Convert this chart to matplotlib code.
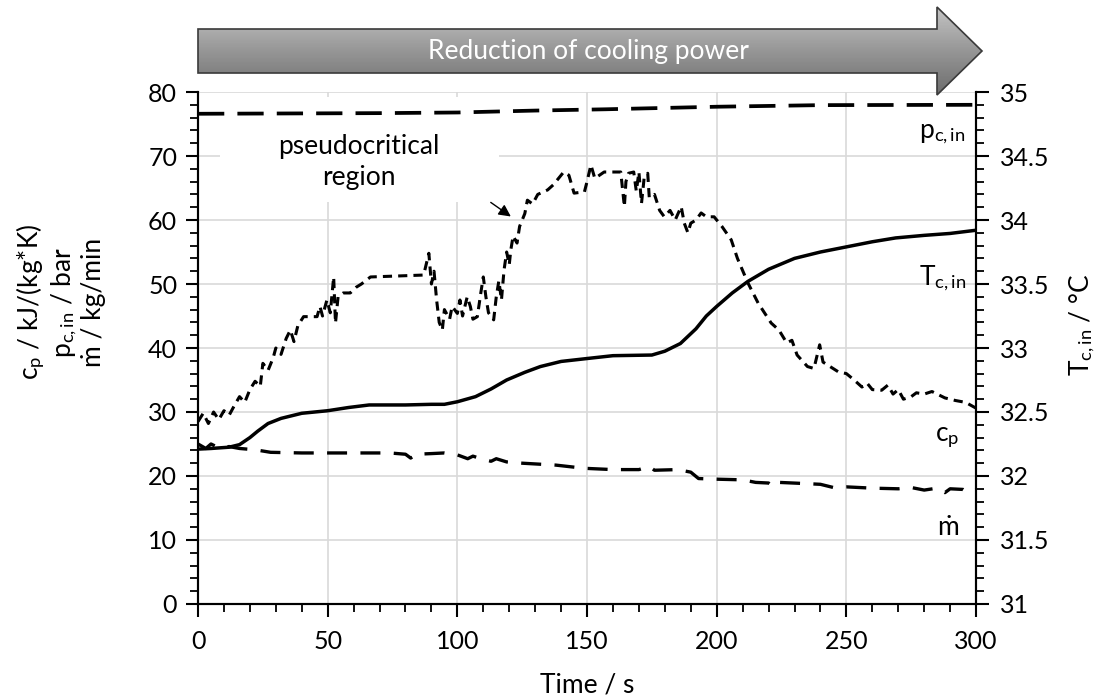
import matplotlib
matplotlib.use("Agg")
import matplotlib.pyplot as plt
from matplotlib.patches import Polygon, Rectangle
from matplotlib.ticker import MultipleLocator
import numpy as np

plt.rcParams['font.family'] = ['Lato', 'DejaVu Sans']
plt.rcParams['mathtext.fontset'] = 'custom'
plt.rcParams['mathtext.rm'] = 'Lato'
plt.rcParams['mathtext.it'] = 'Lato:italic'

# p_c,in / bar
t_p = [0, 70, 100, 130, 157, 200, 240, 300]
p_cin = [76.6, 76.7, 76.8, 77.1, 77.3, 77.7, 77.95, 78.0]

# T_c,in / degC (right axis)
t_T = [0, 5, 12, 16, 20, 23, 27, 32, 40, 50, 58, 66, 80, 90, 95, 100, 107, 113,
       119, 126, 132, 140, 151, 160, 175, 180, 186, 192, 196, 200, 206, 212, 220,
       230, 240, 250, 260, 269, 280, 290, 300]
T_cin = [32.21, 32.215, 32.225, 32.245, 32.30, 32.35, 32.41, 32.45, 32.49, 32.51,
         32.535, 32.555, 32.555, 32.56, 32.56, 32.58, 32.62, 32.68, 32.75, 32.81,
         32.855, 32.895, 32.92, 32.94, 32.945, 32.975, 33.035, 33.15, 33.25, 33.325,
         33.43, 33.52, 33.615, 33.70, 33.75, 33.79, 33.83, 33.86, 33.88, 33.895, 33.92]

# c_p / kJ/(kg*K)
t_cp = [0, 2, 4, 6, 8, 10, 12, 14, 16, 18, 20, 22, 24, 25, 27, 29, 30, 32, 34, 35.6,
        37, 38.5, 40.7, 45.9, 47, 48, 49.7, 51, 52.3, 53, 54, 56, 58.7, 61, 63, 66.5,
        87, 89, 90, 91, 92, 93, 94.2, 95, 97, 98, 100, 101, 102, 103.8, 105, 106,
        107.7, 109, 110, 111, 112, 114, 115, 116, 117, 118, 119, 120, 120.6, 121.5,
        123, 124, 125, 126, 127, 129, 131, 134.8, 137, 141, 143, 145, 149, 150, 151.5,
        153, 156.6, 163, 164.4, 165, 166, 168, 169, 170, 171, 172, 173.4, 174, 176,
        178, 179.8, 182, 184, 186.3, 187.5, 188.9, 190, 192, 194, 196, 199, 202,
        205.6, 208, 212, 216, 221, 224, 227, 229, 231, 235, 237.5, 239.7, 241, 246.8,
        250, 253, 256, 258, 260, 263.6, 266, 268, 270, 272, 275, 277, 280, 283, 288,
        292, 296, 300]
cp = [28.5, 29.8, 28.2, 30.0, 28.8, 30.2, 29.5, 31.0, 32.4, 31.5, 33.5, 34.8, 34.0,
      37.6, 36.5, 38.5, 40.0, 39.0, 41.5, 42.8, 41.0, 43.5, 44.9, 44.9, 46.5, 45.0,
      47.5, 45.5, 51.1, 43.9, 48.0, 48.6, 48.6, 49.5, 50.0, 51.1, 51.4, 54.8, 50.0,
      52.0, 47.5, 44.0, 42.8, 46.0, 44.5, 46.5, 45.4, 47.5, 45.0, 48.0, 46.5, 44.5,
      44.9, 48.5, 51.1, 48.0, 45.5, 44.4, 48.0, 50.5, 47.5, 52.2, 55.0, 53.0, 55.3,
      57.5, 56.4, 59.0, 60.0, 61.0, 63.1, 62.5, 64.0, 64.7, 65.5, 67.5, 67.0, 64.2,
      64.4, 66.0, 68.6, 66.5, 67.5, 67.5, 62.1, 66.0, 67.3, 67.5, 64.5, 67.5, 62.6,
      66.5, 67.3, 63.5, 64.0, 61.5, 60.5, 61.5, 60.0, 62.1, 59.5, 58.0, 59.5, 60.0,
      61.1, 60.5, 60.5, 59.0, 56.9, 54.0, 50.2, 47.0, 43.9, 42.8, 40.8, 41.2, 38.9,
      37.1, 36.8, 40.5, 37.8, 36.3, 36.0, 35.0, 33.9, 34.5, 33.5, 33.4, 34.2, 32.8,
      33.5, 32.0, 32.4, 33.0, 32.8, 33.2, 32.2, 31.8, 31.5, 30.6]

# m_dot / kg/min
t_m = [0, 3, 5, 8, 12, 16, 22, 28, 40, 60, 74, 80, 82, 84, 90, 95, 100, 104, 106,
       110, 113, 115, 119, 125, 138, 149, 160, 170, 174, 176, 185, 190, 193, 200,
       210, 215, 220, 222, 224, 235, 240, 245, 250, 260, 270, 275, 280, 285, 288,
       290, 295, 297, 300]
m_dot = [25.0, 24.3, 25.0, 24.4, 24.6, 24.3, 24.1, 23.7, 23.6, 23.6, 23.6, 23.4,
         22.8, 23.4, 23.5, 23.6, 23.3, 22.7, 23.1, 22.6, 22.3, 22.7, 22.2, 22.0,
         21.7, 21.2, 21.0, 21.0, 21.5, 20.9, 21.0, 20.6, 19.6, 19.5, 19.4, 19.0,
         18.9, 18.3, 19.0, 18.8, 18.7, 18.2, 18.3, 18.1, 18.0, 18.2, 17.8, 18.1,
         17.4, 18.0, 17.9, 17.4, 17.8]

FS = 19
TFS = 18

fig = plt.figure(figsize=(11.02, 6.96), dpi=100)
ax = fig.add_axes([0.1797, 0.1322, 0.7060, 0.7356])
ax2 = ax.twinx()

ax.set_xlim(0, 300)
ax.set_ylim(0, 80)
ax2.set_ylim(31, 35)

ax.xaxis.set_major_locator(MultipleLocator(50))
ax.xaxis.set_minor_locator(MultipleLocator(10))
ax.yaxis.set_major_locator(MultipleLocator(10))
ax.yaxis.set_minor_locator(MultipleLocator(2))
ax2.yaxis.set_minor_locator(MultipleLocator(0.1))
ax2.set_yticks([31, 31.5, 32, 32.5, 33, 33.5, 34, 34.5, 35])
ax2.set_yticklabels(["31", "31.5", "32", "32.5", "33", "33.5", "34", "34.5", "35"])

ax.grid(True, which='major', color='#d9d9d9', lw=1.2, zorder=0)
ax.set_axisbelow(True)
for a in (ax, ax2):
    a.spines['top'].set_visible(False)
    for s in ('left', 'right', 'bottom'):
        a.spines[s].set_linewidth(1.5)
    a.tick_params(which='major', length=9, width=1.5, labelsize=TFS, direction='out')
    a.tick_params(which='minor', length=6, width=1.3, direction='out')
ax.tick_params(axis='x', pad=10)
ax.tick_params(axis='y', pad=6)
ax2.tick_params(axis='y', pad=8)

# white box behind the "pseudocritical region" text
ax.add_patch(Rectangle((8.5, 62.8), 107.5, 16.4, facecolor='white', edgecolor='none', zorder=1))
ax.text(62, 69.0, "pseudocritical\nregion", ha='center', va='center', fontsize=FS,
        linespacing=1.3, zorder=2)
ax.annotate("", xy=(121.5, 60.3), xytext=(112, 63.0),
            arrowprops=dict(arrowstyle='-|>', color='black', lw=1, mutation_scale=18), zorder=5)

ax.plot(t_p, p_cin, color='black', lw=2.7, ls=(0, (7, 3.5)), zorder=3)
ax.plot(t_cp, cp, color='black', lw=2.2, ls=(0, (3, 2)), zorder=3)
ax.plot(t_m, m_dot, color='black', lw=2.4, ls=(0, (6, 4)), zorder=3)
ax2.plot(t_T, T_cin, color='black', lw=2.5, zorder=3)

ax.text(287, 73.5, r"p$_\mathregular{c,in}$", ha='center', va='center', fontsize=FS)
ax.text(287, 51.0, r"T$_\mathregular{c,in}$", ha='center', va='center', fontsize=FS)
ax.text(289, 26.0, r"c$_\mathregular{p}$", ha='center', va='center', fontsize=FS)
ax.text(289, 12.0, "ṁ", ha='center', va='center', fontsize=FS)

ax.set_xlabel("Time / s", fontsize=FS, labelpad=14)
fig.text(60 / 1102, 1 - 302 / 696,
         "c$_\\mathregular{p}$ / kJ/(kg*K)\np$_\\mathregular{c,in}$ / bar\nṁ / kg/min",
         rotation=90, ha='center', va='center', fontsize=FS, linespacing=1.1,
         multialignment='center')
fig.text(1082 / 1102, 1 - 325 / 696, r"T$_\mathregular{c,in}$ / $\degree$C",
         rotation=90, ha='center', va='center', fontsize=FS)

# top arrow "Reduction of cooling power" in pixel coords
ov = fig.add_axes([0, 0, 1, 1], zorder=10)
ov.axis('off')
ov.patch.set_alpha(0)
arrow = Polygon([(198, 29), (937, 29), (937, 7), (982, 51), (937, 95), (937, 73), (198, 73)],
                closed=True, facecolor='none', edgecolor='#3a3a3a', lw=1.2, zorder=3)
grad = np.linspace(0, 1, 100).reshape(-1, 1)
img = ov.imshow(grad, extent=(198, 982, 95, 7), cmap=plt.get_cmap('Greys'), vmin=-1.2, vmax=2.2,
                aspect='auto', zorder=2)
img.set_clip_path(Polygon(arrow.get_xy(), closed=True, transform=ov.transData))
ov.add_patch(arrow)
ov.set_xlim(0, 1102)
ov.set_ylim(696, 0)
ov.text(588, 51, "Reduction of cooling power", color='white', ha='center', va='center',
        fontsize=FS, zorder=4)

fig.savefig("out.png", dpi=100)
